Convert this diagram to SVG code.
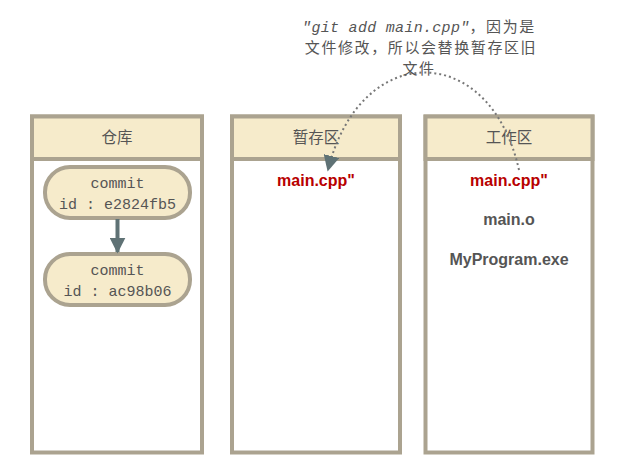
<svg xmlns="http://www.w3.org/2000/svg" width="631" height="474" viewBox="0 0 631 474">
<style>
.box{fill:#ffffff;stroke:#aba390;stroke-width:4}
.hdr{fill:#f6ebcb;stroke:#aba390;stroke-width:4}
.pill{fill:#f6ebcb;stroke:#aba390;stroke-width:4}
.ht{font-family:"Noto Sans CJK SC","DejaVu Sans",sans-serif;font-size:15.5px;fill:#555;text-anchor:middle}
.mono{font-family:"Liberation Mono","DejaVu Sans Mono",monospace;font-size:15px;fill:#555;text-anchor:middle}
.red{font-family:"Liberation Sans",Arial,sans-serif;font-weight:bold;font-size:16px;fill:#b80000;text-anchor:middle}
.gray{font-family:"Liberation Sans",Arial,sans-serif;font-weight:bold;font-size:16px;fill:#555;text-anchor:middle}
.note{font-family:"Noto Sans CJK SC",sans-serif;font-size:15px;letter-spacing:1.6px;fill:#555;text-anchor:middle}
.cmd{font-family:"Liberation Mono",monospace;font-style:italic;letter-spacing:0.3px}
</style>
<defs>
<marker id="ah" viewBox="0 0 10 10" refX="9" refY="5" markerWidth="4" markerHeight="4" orient="auto" markerUnits="strokeWidth">
<path d="M0 0 L10 5 L0 10 z" fill="#5f7275"/>
</marker>
<marker id="ah2" viewBox="0 0 10 10" refX="9" refY="5" markerWidth="8" markerHeight="8" orient="auto" markerUnits="strokeWidth">
<path d="M0 0 L10 5 L0 10 z" fill="#5f7275"/>
</marker>
</defs>
<g id="repo">
<rect class="box" x="32" y="116.5" width="170" height="336"/>
<rect class="hdr" x="32" y="116.5" width="170" height="42.5"/>
<text class="ht" x="117" y="143">仓库</text>
</g>
<g id="commit1">
<rect class="pill" x="45" y="167" width="145" height="51" rx="25" ry="25"/>
<text class="mono" x="117.5" y="188">commit</text>
<text class="mono" x="117.5" y="209">id : e2824fb5</text>
</g>
<g id="commit2">
<rect class="pill" x="45" y="254" width="145" height="51" rx="25" ry="25"/>
<text class="mono" x="117.5" y="275">commit</text>
<text class="mono" x="117.5" y="296">id : ac98b06</text>
</g>
<g id="stage">
<rect class="box" x="232" y="116.5" width="168" height="336"/>
<rect class="hdr" x="232" y="116.5" width="168" height="42.5"/>
<text class="ht" x="316" y="143">暂存区</text>
<text class="red" x="316" y="186">main.cpp"</text>
</g>
<g id="work">
<rect class="box" x="425.5" y="116.5" width="167" height="336"/>
<rect class="hdr" x="425.5" y="116.5" width="167" height="42.5"/>
<text class="ht" x="509" y="143">工作区</text>
<text class="red" x="509" y="186">main.cpp"</text>
<text class="gray" x="509" y="225">main.o</text>
<text class="gray" x="509" y="265">MyProgram.exe</text>
</g>
<g id="connectors">
<line x1="117.5" y1="219" x2="117.5" y2="252" stroke="#5f7275" stroke-width="4" marker-end="url(#ah)"/>
<path d="M519 170 C490 40 360 40 328 170" fill="none" stroke="#777" stroke-width="2" stroke-dasharray="2 3" marker-end="url(#ah2)"/>
</g>
<g id="note">
<text class="note" x="419" y="32"><tspan class="cmd">"git add main.cpp"</tspan>，因为是</text>
<text class="note" x="421" y="53">文件修改，所以会替换暂存区旧</text>
<text class="note" x="419" y="74">文件</text>
</g>
</svg>
